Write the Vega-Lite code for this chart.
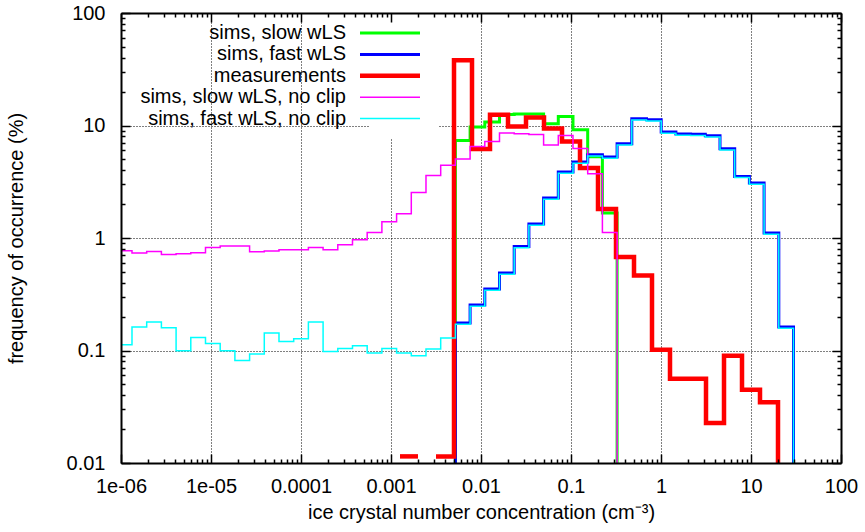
{
  "$schema": "https://vega.github.io/schema/vega-lite/v6.json",
  "width": 720,
  "height": 450,
  "autosize": {"type": "none"},
  "padding": {"left": 121, "top": 13, "right": 24, "bottom": 69},
  "background": "white",
  "config": {
    "view": {"stroke": null},
    "font": "Liberation Sans",
    "axis": {
      "labelFont": "Liberation Sans", "labelFontSize": 20, "labelColor": "black",
      "titleFont": "Liberation Sans", "titleFontSize": 20, "titleFontWeight": "normal", "titleColor": "black",
      "domainColor": "black", "tickColor": "black", "labelFlush": false, "labelOverlap": false, "labelBound": false
    }
  },
  "data": {"values": [
    {"s": "sims, slow wLS", "g": "a", "x": 3.5656e-3, "y": 0.001},
    {"s": "sims, slow wLS", "g": "a", "x": 5.193e-3, "y": 7.37},
    {"s": "sims, slow wLS", "g": "a", "x": 7.566e-3, "y": 9.70},
    {"s": "sims, slow wLS", "g": "a", "x": 0.01102, "y": 10.74},
    {"s": "sims, slow wLS", "g": "a", "x": 0.016051, "y": 12.55},
    {"s": "sims, slow wLS", "g": "a", "x": 0.023381, "y": 12.65},
    {"s": "sims, slow wLS", "g": "a", "x": 0.034055, "y": 12.65},
    {"s": "sims, slow wLS", "g": "a", "x": 0.049603, "y": 10.38},
    {"s": "sims, slow wLS", "g": "a", "x": 0.07225, "y": 12.05},
    {"s": "sims, slow wLS", "g": "a", "x": 0.10524, "y": 9.18},
    {"s": "sims, slow wLS", "g": "a", "x": 0.15329, "y": 5.28},
    {"s": "sims, slow wLS", "g": "a", "x": 0.2233, "y": 1.67},
    {"s": "sims, slow wLS", "g": "a", "x": 0.32523, "y": 0.001},

    {"s": "sims, fast wLS", "g": "b", "x": 3.5656e-3, "y": 0.001},
    {"s": "sims, fast wLS", "g": "b", "x": 5.193e-3, "y": 0.1756},
    {"s": "sims, fast wLS", "g": "b", "x": 7.566e-3, "y": 0.2538},
    {"s": "sims, fast wLS", "g": "b", "x": 0.01102, "y": 0.352},
    {"s": "sims, fast wLS", "g": "b", "x": 0.016051, "y": 0.489},
    {"s": "sims, fast wLS", "g": "b", "x": 0.023381, "y": 0.842},
    {"s": "sims, fast wLS", "g": "b", "x": 0.034055, "y": 1.33},
    {"s": "sims, fast wLS", "g": "b", "x": 0.049603, "y": 2.27},
    {"s": "sims, fast wLS", "g": "b", "x": 0.07225, "y": 3.86},
    {"s": "sims, fast wLS", "g": "b", "x": 0.10524, "y": 4.74},
    {"s": "sims, fast wLS", "g": "b", "x": 0.15329, "y": 5.50},
    {"s": "sims, fast wLS", "g": "b", "x": 0.2233, "y": 5.25},
    {"s": "sims, fast wLS", "g": "b", "x": 0.32523, "y": 6.89},
    {"s": "sims, fast wLS", "g": "b", "x": 0.47371, "y": 11.49},
    {"s": "sims, fast wLS", "g": "b", "x": 0.69, "y": 11.27},
    {"s": "sims, fast wLS", "g": "b", "x": 1.0051, "y": 8.76},
    {"s": "sims, fast wLS", "g": "b", "x": 1.4639, "y": 8.40},
    {"s": "sims, fast wLS", "g": "b", "x": 2.1328, "y": 8.35},
    {"s": "sims, fast wLS", "g": "b", "x": 3.1064, "y": 8.11},
    {"s": "sims, fast wLS", "g": "b", "x": 4.5247, "y": 6.22},
    {"s": "sims, fast wLS", "g": "b", "x": 6.5905, "y": 3.53},
    {"s": "sims, fast wLS", "g": "b", "x": 9.5985, "y": 3.08},
    {"s": "sims, fast wLS", "g": "b", "x": 13.98, "y": 1.107},
    {"s": "sims, fast wLS", "g": "b", "x": 20.368, "y": 0.162},
    {"s": "sims, fast wLS", "g": "b", "x": 29.664, "y": 0.001},

    {"s": "measurements", "g": "m1", "x": 1.2589e-3, "y": 0.01145},
    {"s": "measurements", "g": "m1", "x": 1.9953e-3, "y": 0.01145},
    {"s": "measurements", "g": "m2", "x": 3.1623e-3, "y": 0.01145},
    {"s": "measurements", "g": "m2", "x": 5.0119e-3, "y": 38.0},
    {"s": "measurements", "g": "m2", "x": 7.9433e-3, "y": 6.18},
    {"s": "measurements", "g": "m2", "x": 0.012589, "y": 12.48},
    {"s": "measurements", "g": "m2", "x": 0.019953, "y": 9.82},
    {"s": "measurements", "g": "m2", "x": 0.031623, "y": 11.8},
    {"s": "measurements", "g": "m2", "x": 0.050119, "y": 9.42},
    {"s": "measurements", "g": "m2", "x": 0.079433, "y": 7.22},
    {"s": "measurements", "g": "m2", "x": 0.12589, "y": 4.19},
    {"s": "measurements", "g": "m2", "x": 0.19953, "y": 1.81},
    {"s": "measurements", "g": "m2", "x": 0.31623, "y": 0.678},
    {"s": "measurements", "g": "m2", "x": 0.50119, "y": 0.465},
    {"s": "measurements", "g": "m2", "x": 0.79433, "y": 0.1016},
    {"s": "measurements", "g": "m2", "x": 1.2589, "y": 0.0561},
    {"s": "measurements", "g": "m2", "x": 1.9953, "y": 0.0561},
    {"s": "measurements", "g": "m2", "x": 3.1623, "y": 0.02268},
    {"s": "measurements", "g": "m2", "x": 5.0119, "y": 0.0899},
    {"s": "measurements", "g": "m2", "x": 7.9433, "y": 0.0448},
    {"s": "measurements", "g": "m2", "x": 12.589, "y": 0.0346},
    {"s": "measurements", "g": "m2", "x": 19.953, "y": 0.001},

    {"s": "sims, slow wLS, no clip", "g": "c", "x": 9.097e-7, "y": 0.771},
    {"s": "sims, slow wLS, no clip", "g": "c", "x": 1.3249e-6, "y": 0.7356},
    {"s": "sims, slow wLS, no clip", "g": "c", "x": 1.9297e-6, "y": 0.760},
    {"s": "sims, slow wLS, no clip", "g": "c", "x": 2.811e-6, "y": 0.7148},
    {"s": "sims, slow wLS, no clip", "g": "c", "x": 4.094e-6, "y": 0.725},
    {"s": "sims, slow wLS, no clip", "g": "c", "x": 5.963e-6, "y": 0.740},
    {"s": "sims, slow wLS, no clip", "g": "c", "x": 8.686e-6, "y": 0.825},
    {"s": "sims, slow wLS, no clip", "g": "c", "x": 1.2651e-5, "y": 0.849},
    {"s": "sims, slow wLS, no clip", "g": "c", "x": 1.8427e-5, "y": 0.849},
    {"s": "sims, slow wLS, no clip", "g": "c", "x": 2.684e-5, "y": 0.755},
    {"s": "sims, slow wLS, no clip", "g": "c", "x": 3.909e-5, "y": 0.766},
    {"s": "sims, slow wLS, no clip", "g": "c", "x": 5.694e-5, "y": 0.787},
    {"s": "sims, slow wLS, no clip", "g": "c", "x": 8.295e-5, "y": 0.787},
    {"s": "sims, slow wLS, no clip", "g": "c", "x": 1.2082e-4, "y": 0.825},
    {"s": "sims, slow wLS, no clip", "g": "c", "x": 1.7598e-4, "y": 0.787},
    {"s": "sims, slow wLS, no clip", "g": "c", "x": 2.5633e-4, "y": 0.872},
    {"s": "sims, slow wLS, no clip", "g": "c", "x": 3.7336e-4, "y": 0.966},
    {"s": "sims, slow wLS, no clip", "g": "c", "x": 5.438e-4, "y": 1.121},
    {"s": "sims, slow wLS, no clip", "g": "c", "x": 7.921e-4, "y": 1.396},
    {"s": "sims, slow wLS, no clip", "g": "c", "x": 1.1537e-3, "y": 1.644},
    {"s": "sims, slow wLS, no clip", "g": "c", "x": 1.6805e-3, "y": 2.542},
    {"s": "sims, slow wLS, no clip", "g": "c", "x": 2.4479e-3, "y": 3.60},
    {"s": "sims, slow wLS, no clip", "g": "c", "x": 3.5656e-3, "y": 4.44},
    {"s": "sims, slow wLS, no clip", "g": "c", "x": 5.193e-3, "y": 5.04},
    {"s": "sims, slow wLS, no clip", "g": "c", "x": 7.566e-3, "y": 6.52},
    {"s": "sims, slow wLS, no clip", "g": "c", "x": 0.01102, "y": 7.22},
    {"s": "sims, slow wLS, no clip", "g": "c", "x": 0.016051, "y": 8.58},
    {"s": "sims, slow wLS, no clip", "g": "c", "x": 0.023381, "y": 8.46},
    {"s": "sims, slow wLS, no clip", "g": "c", "x": 0.034055, "y": 8.33},
    {"s": "sims, slow wLS, no clip", "g": "c", "x": 0.049603, "y": 6.71},
    {"s": "sims, slow wLS, no clip", "g": "c", "x": 0.07225, "y": 8.17},
    {"s": "sims, slow wLS, no clip", "g": "c", "x": 0.10524, "y": 6.26},
    {"s": "sims, slow wLS, no clip", "g": "c", "x": 0.15329, "y": 3.73},
    {"s": "sims, slow wLS, no clip", "g": "c", "x": 0.2233, "y": 1.121},
    {"s": "sims, slow wLS, no clip", "g": "c", "x": 0.32523, "y": 0.001},

    {"s": "sims, fast wLS, no clip", "g": "d", "x": 9.097e-7, "y": 0.1126},
    {"s": "sims, fast wLS, no clip", "g": "d", "x": 1.3249e-6, "y": 0.1618},
    {"s": "sims, fast wLS, no clip", "g": "d", "x": 1.9297e-6, "y": 0.1792},
    {"s": "sims, fast wLS, no clip", "g": "d", "x": 2.811e-6, "y": 0.1595},
    {"s": "sims, fast wLS, no clip", "g": "d", "x": 4.094e-6, "y": 0.0996},
    {"s": "sims, fast wLS, no clip", "g": "d", "x": 5.963e-6, "y": 0.1307},
    {"s": "sims, fast wLS, no clip", "g": "d", "x": 8.686e-6, "y": 0.1156},
    {"s": "sims, fast wLS, no clip", "g": "d", "x": 1.2651e-5, "y": 0.0996},
    {"s": "sims, fast wLS, no clip", "g": "d", "x": 1.8427e-5, "y": 0.0817},
    {"s": "sims, fast wLS, no clip", "g": "d", "x": 2.684e-5, "y": 0.0931},
    {"s": "sims, fast wLS, no clip", "g": "d", "x": 3.909e-5, "y": 0.1431},
    {"s": "sims, fast wLS, no clip", "g": "d", "x": 5.694e-5, "y": 0.1205},
    {"s": "sims, fast wLS, no clip", "g": "d", "x": 8.295e-5, "y": 0.1273},
    {"s": "sims, fast wLS, no clip", "g": "d", "x": 1.2082e-4, "y": 0.1792},
    {"s": "sims, fast wLS, no clip", "g": "d", "x": 1.7598e-4, "y": 0.0982},
    {"s": "sims, fast wLS, no clip", "g": "d", "x": 2.5633e-4, "y": 0.1044},
    {"s": "sims, fast wLS, no clip", "g": "d", "x": 3.7336e-4, "y": 0.1103},
    {"s": "sims, fast wLS, no clip", "g": "d", "x": 5.438e-4, "y": 0.0950},
    {"s": "sims, fast wLS, no clip", "g": "d", "x": 7.921e-4, "y": 0.1044},
    {"s": "sims, fast wLS, no clip", "g": "d", "x": 1.1537e-3, "y": 0.0950},
    {"s": "sims, fast wLS, no clip", "g": "d", "x": 1.6805e-3, "y": 0.0899},
    {"s": "sims, fast wLS, no clip", "g": "d", "x": 2.4479e-3, "y": 0.1031},
    {"s": "sims, fast wLS, no clip", "g": "d", "x": 3.5656e-3, "y": 0.1292},
    {"s": "sims, fast wLS, no clip", "g": "d", "x": 5.193e-3, "y": 0.1712},
    {"s": "sims, fast wLS, no clip", "g": "d", "x": 7.566e-3, "y": 0.2475},
    {"s": "sims, fast wLS, no clip", "g": "d", "x": 0.01102, "y": 0.3432},
    {"s": "sims, fast wLS, no clip", "g": "d", "x": 0.016051, "y": 0.4768},
    {"s": "sims, fast wLS, no clip", "g": "d", "x": 0.023381, "y": 0.821},
    {"s": "sims, fast wLS, no clip", "g": "d", "x": 0.034055, "y": 1.297},
    {"s": "sims, fast wLS, no clip", "g": "d", "x": 0.049603, "y": 2.213},
    {"s": "sims, fast wLS, no clip", "g": "d", "x": 0.07225, "y": 3.764},
    {"s": "sims, fast wLS, no clip", "g": "d", "x": 0.10524, "y": 4.622},
    {"s": "sims, fast wLS, no clip", "g": "d", "x": 0.15329, "y": 5.363},
    {"s": "sims, fast wLS, no clip", "g": "d", "x": 0.2233, "y": 5.119},
    {"s": "sims, fast wLS, no clip", "g": "d", "x": 0.32523, "y": 6.718},
    {"s": "sims, fast wLS, no clip", "g": "d", "x": 0.47371, "y": 11.20},
    {"s": "sims, fast wLS, no clip", "g": "d", "x": 0.69, "y": 10.99},
    {"s": "sims, fast wLS, no clip", "g": "d", "x": 1.0051, "y": 8.541},
    {"s": "sims, fast wLS, no clip", "g": "d", "x": 1.4639, "y": 8.19},
    {"s": "sims, fast wLS, no clip", "g": "d", "x": 2.1328, "y": 8.141},
    {"s": "sims, fast wLS, no clip", "g": "d", "x": 3.1064, "y": 7.907},
    {"s": "sims, fast wLS, no clip", "g": "d", "x": 4.5247, "y": 6.065},
    {"s": "sims, fast wLS, no clip", "g": "d", "x": 6.5905, "y": 3.442},
    {"s": "sims, fast wLS, no clip", "g": "d", "x": 9.5985, "y": 3.003},
    {"s": "sims, fast wLS, no clip", "g": "d", "x": 13.98, "y": 1.079},
    {"s": "sims, fast wLS, no clip", "g": "d", "x": 20.368, "y": 0.158},
    {"s": "sims, fast wLS, no clip", "g": "d", "x": 29.664, "y": 0.001}
  ]},
  "resolve": {"axis": {"x": "independent", "y": "independent"}},
  "layer": [
    {
      "mark": {"type": "line", "interpolate": "step-after", "clip": true},
      "encoding": {
        "x": {"field": "x", "type": "quantitative",
          "scale": {"type": "log", "domain": [1e-6, 100], "nice": false},
          "axis": {"orient": "bottom", "values": [1e-6, 1e-5, 1e-4, 1e-3, 0.01, 0.1, 1, 10, 100],
            "ticks": false, "domain": false, "grid": true, "gridColor": "black", "gridDash": [1, 2], "gridWidth": 1,
            "labelPadding": 13, "zindex": 0,
            "labelExpr": "datum.value < 5e-6 ? '1e-06' : datum.value < 5e-5 ? '1e-05' : format(datum.value, '~g')",
            "title": "ice crystal number concentration (cm⁻³)", "titlePadding": 6}},
        "y": {"field": "y", "type": "quantitative",
          "scale": {"type": "log", "domain": [0.01, 100], "nice": false},
          "axis": {"orient": "left", "values": [0.01, 0.1, 1, 10, 100],
            "ticks": false, "domain": false, "grid": true, "gridColor": "black", "gridDash": [1, 2], "gridWidth": 1,
            "labelPadding": 16, "zindex": 0, "format": "~g",
            "title": "frequency of occurrence (%)", "titlePadding": 40}},
        "color": {"field": "s", "type": "nominal",
          "scale": {"domain": ["sims, slow wLS", "sims, fast wLS", "measurements", "sims, slow wLS, no clip", "sims, fast wLS, no clip"],
                    "range": ["#00ff00", "#0000ff", "#ff0000", "#ff00ff", "#00ffff"]},
          "legend": {"orient": "none", "legendX": 249, "legendY": 0, "title": null,
            "symbolType": "M-6,0H6", "symbolSize": 100, "labelFontSize": 20, "labelFont": "Liberation Sans",
            "labelColor": "black", "labelAlign": "right", "labelOffset": -54, "labelLimit": 400,
            "fillColor": "white", "padding": 10, "rowPadding": 1.4, "zindex": 0}},
        "strokeWidth": {"field": "s", "type": "ordinal",
          "scale": {"type": "ordinal", "domain": ["sims, slow wLS", "sims, fast wLS", "measurements", "sims, slow wLS, no clip", "sims, fast wLS, no clip"],
                    "range": [3, 3, 4.5, 1.5, 1.5]},
          "legend": {"orient": "none", "legendX": 249, "legendY": 0, "title": null,
            "symbolType": "M-6,0H6", "symbolSize": 100, "labelFontSize": 20, "labelFont": "Liberation Sans",
            "labelColor": "black", "labelAlign": "right", "labelOffset": -54, "labelLimit": 400,
            "fillColor": "white", "padding": 10, "rowPadding": 1.4, "zindex": 0}},
        "detail": {"field": "g", "type": "nominal"}
      }
    },
    {
      "mark": {"type": "point", "opacity": 0, "clip": true},
      "encoding": {
        "x": {"field": "x", "type": "quantitative",
          "scale": {"type": "log", "domain": [1e-6, 100], "nice": false},
          "axis": {"orient": "bottom", "title": null, "labels": false, "grid": false, "domain": true, "domainWidth": 2, "zindex": 1,
            "tickWidth": 1.5,
            "values": [1e-6,2e-6,3e-6,4e-6,5e-6,6e-6,7e-6,8e-6,9e-6,1e-5,2e-5,3e-5,4e-5,5e-5,6e-5,7e-5,8e-5,9e-5,1e-4,2e-4,3e-4,4e-4,5e-4,6e-4,7e-4,8e-4,9e-4,1e-3,2e-3,3e-3,4e-3,5e-3,6e-3,7e-3,8e-3,9e-3,0.01,0.02,0.03,0.04,0.05,0.06,0.07,0.08,0.09,0.1,0.2,0.3,0.4,0.5,0.6,0.7,0.8,0.9,1,2,3,4,5,6,7,8,9,10,20,30,40,50,60,70,80,90,100],
            "tickSize": {"condition": {"test": "abs(log(datum.value)/LN10 - round(log(datum.value)/LN10)) < 0.01", "value": -9}, "value": -4}}},
        "y": {"field": "y", "type": "quantitative",
          "scale": {"type": "log", "domain": [0.01, 100], "nice": false},
          "axis": {"orient": "left", "title": null, "labels": false, "grid": false, "domain": true, "domainWidth": 2, "zindex": 1,
            "tickWidth": 1.5,
            "values": [0.01,0.02,0.03,0.04,0.05,0.06,0.07,0.08,0.09,0.1,0.2,0.3,0.4,0.5,0.6,0.7,0.8,0.9,1,2,3,4,5,6,7,8,9,10,20,30,40,50,60,70,80,90,100],
            "tickSize": {"condition": {"test": "abs(log(datum.value)/LN10 - round(log(datum.value)/LN10)) < 0.01", "value": -9}, "value": -4}}}
      }
    },
    {
      "mark": {"type": "point", "opacity": 0, "clip": true},
      "encoding": {
        "x": {"field": "x", "type": "quantitative",
          "scale": {"type": "log", "domain": [1e-6, 100], "nice": false},
          "axis": {"orient": "top", "title": null, "labels": false, "grid": false, "domain": true, "domainWidth": 2, "zindex": 1,
            "tickWidth": 1.5,
            "values": [1e-6,2e-6,3e-6,4e-6,5e-6,6e-6,7e-6,8e-6,9e-6,1e-5,2e-5,3e-5,4e-5,5e-5,6e-5,7e-5,8e-5,9e-5,1e-4,2e-4,3e-4,4e-4,5e-4,6e-4,7e-4,8e-4,9e-4,1e-3,2e-3,3e-3,4e-3,5e-3,6e-3,7e-3,8e-3,9e-3,0.01,0.02,0.03,0.04,0.05,0.06,0.07,0.08,0.09,0.1,0.2,0.3,0.4,0.5,0.6,0.7,0.8,0.9,1,2,3,4,5,6,7,8,9,10,20,30,40,50,60,70,80,90,100],
            "tickSize": {"condition": {"test": "abs(log(datum.value)/LN10 - round(log(datum.value)/LN10)) < 0.01", "value": -9}, "value": -4}}},
        "y": {"field": "y", "type": "quantitative",
          "scale": {"type": "log", "domain": [0.01, 100], "nice": false},
          "axis": {"orient": "right", "title": null, "labels": false, "grid": false, "domain": true, "domainWidth": 2, "zindex": 1,
            "tickWidth": 1.5,
            "values": [0.01,0.02,0.03,0.04,0.05,0.06,0.07,0.08,0.09,0.1,0.2,0.3,0.4,0.5,0.6,0.7,0.8,0.9,1,2,3,4,5,6,7,8,9,10,20,30,40,50,60,70,80,90,100],
            "tickSize": {"condition": {"test": "abs(log(datum.value)/LN10 - round(log(datum.value)/LN10)) < 0.01", "value": -9}, "value": -4}}}
      }
    }
  ]
}
